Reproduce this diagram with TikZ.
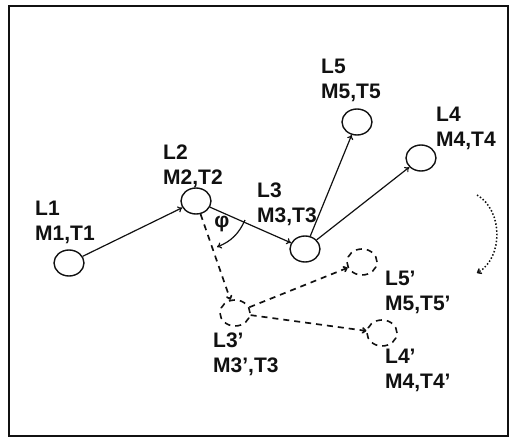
\documentclass[tikz,border=0pt]{standalone}
\usepackage{fontspec}
\setmainfont{Liberation Sans}
\usepackage{xcolor}
\usetikzlibrary{arrows.meta,shapes.geometric}
\definecolor{ink}{HTML}{111111}
\tikzset{
  font=\fontsize{21}{25}\selectfont\bfseries,
  >={To[length=4.5pt,width=6.5pt]},
  link/.style={ellipse, draw=ink, line width=1.4pt, minimum width=30pt,
    minimum height=26pt, inner sep=0pt},
  ghost/.style={link, line width=1.6pt, dash pattern=on 6pt off 5pt},
  lab/.style={anchor=north west, align=left, inner sep=0pt, text=ink},
  flow/.style={->, line width=1.2pt, draw=ink},
  dashflow/.style={->, line width=1.7pt, draw=ink, dash pattern=on 6pt off 5pt},
  dotflow/.style={->, line width=1.5pt, draw=ink, dotted}
}

\begin{document}
\begin{tikzpicture}[x=1pt,y=-1pt]
  \useasboundingbox (0,0) rectangle (509,439);
  \draw[ink, line width=1.8pt] (9,6) rectangle (508,436);

  % ---- Links ----
  \node[link] (l1) at (69,263) {};
  \node[link] (l2) at (196,201) {};
  \node[link] (l3) at (305,249) {};
  \node[link] (l5) at (357,122) {};
  \node[link] (l4) at (421,158) {};

  % ---- Rotated links ----
  \node[ghost] (l3p) at (235,313) {};
  \node[ghost] (l5p) at (362,262) {};
  \node[ghost] (l4p) at (382,333) {};

  % ---- Labels ----
  \node[lab] (t1)  at (35,201)  {L1\\M1,T1};
  \node[lab] (t2)  at (163,145) {L2\\M2,T2};
  \node[lab] (t3)  at (257,183) {L3\\M3,T3};
  \node[lab] (t5)  at (321,59)  {L5\\M5,T5};
  \node[lab] (t4)  at (436,107) {L4\\M4,T4};
  \node[lab] (t5p) at (385,271) {L5’\\M5,T5’};
  \node[lab] (t3p) at (213,333) {L3’\\M3’,T3};
  \node[lab] (t4p) at (385,349) {L4’\\M4,T4’};
  \node[text=ink] (phi) at (222,224) {φ};

  % ---- Edges ----
  \draw[flow] (l1) -- (l2);
  \draw[flow] (l2) -- (l3);
  \draw[flow] (l3) -- (l5);
  \draw[flow] (l3) -- (l4);

  \draw[dashflow] (l2) -- (l3p);
  \draw[dashflow] (l3p) -- (l5p);
  \draw[dashflow] (l3p) -- (l4p);

  % angle and rotation
  \coordinate (phiA) at (245,220);
  \coordinate (phiB) at (217,247);
  \draw[flow] (phiA) to[bend left=22] (phiB);
  \coordinate (rotA) at (477,195);
  \coordinate (rotB) at (477,273);
  \draw[dotflow] (rotA) to[bend left=60] (rotB);
\end{tikzpicture}
\end{document}
